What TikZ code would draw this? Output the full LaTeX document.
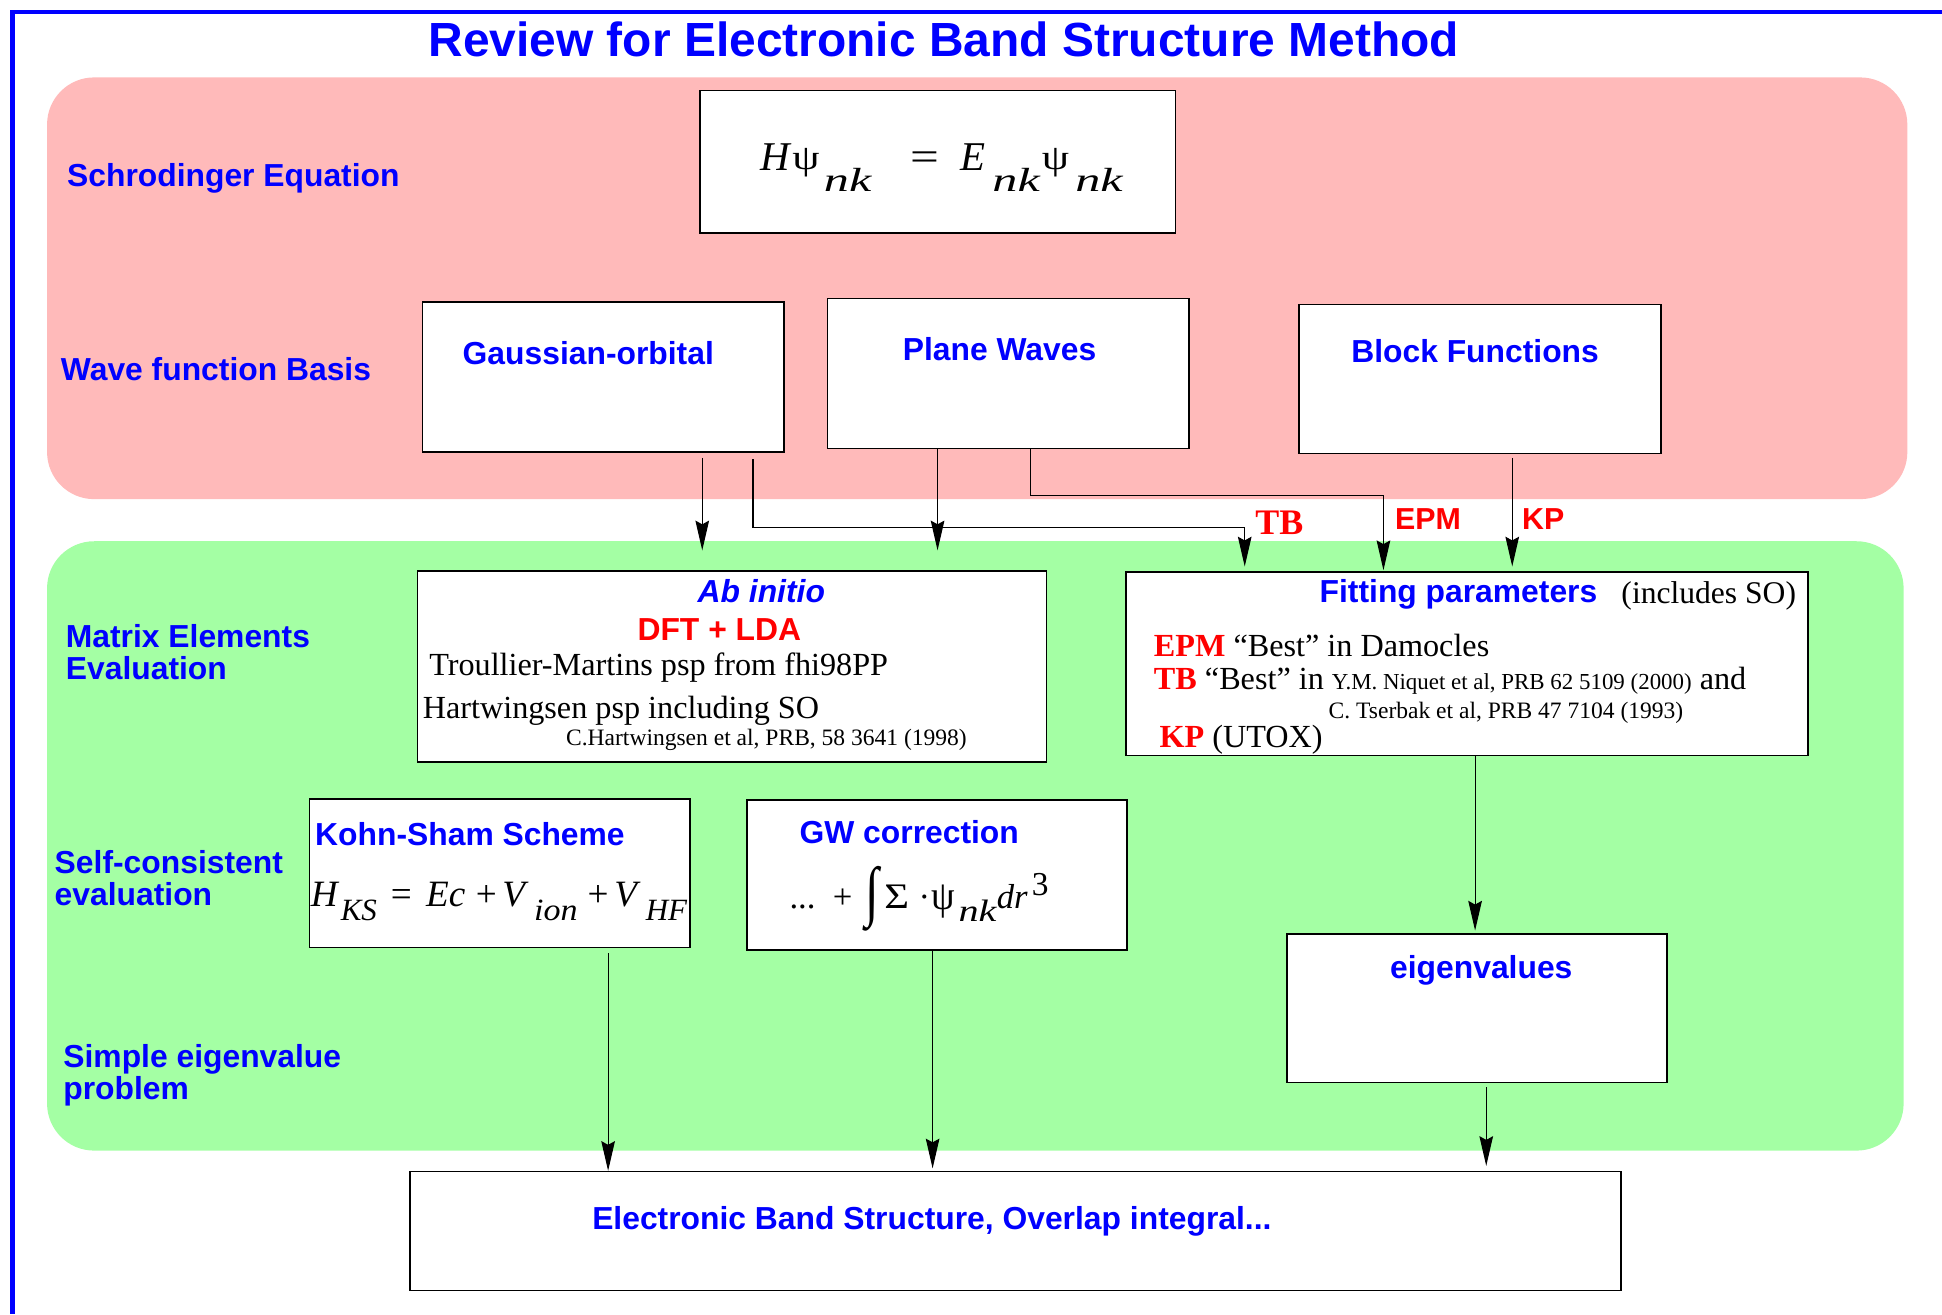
\documentclass[tikz,border=0pt]{standalone}
\usepackage{fontspec}
\usepackage{graphicx}
\setmainfont{Liberation Serif}
\newfontfamily\hv{Liberation Sans}
\usetikzlibrary{arrows.meta,calc}
\definecolor{pinkbg}{RGB}{255,186,186}
\definecolor{greenbg}{RGB}{164,255,164}
\newcommand\fsz[1]{\fontsize{#1}{#1}\selectfont}
\newcommand\pc[3]{\makebox[0pt][l]{\hspace*{#1pt}\raisebox{#2pt}{#3}}}
% glyph #3 stretched to width #1 and total height #2 (depth removed)
\newcommand\glyphbox[3]{\resizebox*{#1}{#2}{\raisebox{\depth}{#3}}}
\tikzset{
  lbl/.style={font=\hv\bfseries\fsz{25.7}, text=blue, inner sep=0, anchor=base west},
  clbl/.style={lbl, anchor=base},
  rlbl/.style={font=\hv\bfseries\fsz{24.5}, text=red, inner sep=0, anchor=base},
  tm/.style={font=\fsz{26}, inner sep=0, anchor=base west},
  cite/.style={font=\fsz{19}, inner sep=0, anchor=base west},
  eqn/.style={inner sep=0, anchor=base west},
  box/.style={draw=black, line width=1.3pt, fill=white, inner sep=0},
  region/.style={rounded corners=38pt},
  conn/.style={line width=0.9pt, draw=black},
  arr/.style={conn, -{Stealth[length=24pt,width=11pt,inset=3pt]}}
}
\begin{document}
\begin{tikzpicture}[x=1pt,y=-1pt]
\useasboundingbox (0,0) rectangle (1568,1061);
% frame
\draw[blue, line width=4pt] (1568,9.7) -- (10,9.7) -- (10,1061);
\node[font=\hv\bfseries\fsz{38.7}, text=blue, inner sep=0, anchor=base] (title) at (762,46) {Review for Electronic Band Structure Method};
% regions
\fill[pinkbg, region] (38,62.5) rectangle (1540,403);
\fill[greenbg, region] (38,437) rectangle (1537,929);
% boxes
\node[box, minimum width=384, minimum height=115] (sch) at (757,130.5) {};
\node[box, minimum width=292, minimum height=121] (ga) at (487,304.5) {};
\node[box, minimum width=292, minimum height=121] (pw) at (814,301.5) {};
\node[box, minimum width=292, minimum height=120] (bf) at (1195,306) {};
\node[box, minimum width=508, minimum height=154] (ai) at (591,538) {};
\node[box, minimum width=551, minimum height=148] (fp) at (1184.5,536) {};
\node[box, minimum width=307, minimum height=120] (ks) at (403.5,705) {};
\node[box, minimum width=307, minimum height=121] (gw) at (756.5,706.5) {};
\node[box, minimum width=307, minimum height=120] (ev) at (1192.5,814) {};
\node[box, minimum width=978, minimum height=96] (ebs) at (820,994) {};
% row labels
\node[lbl] (l1) at (54,150.5) {Schrodinger Equation};
\node[lbl] (l2) at (49,307) {Wave function Basis};
\node[lbl] (l3a) at (53,523) {Matrix Elements};
\node[lbl] (l3b) at (53,549) {Evaluation};
\node[lbl] (l4a) at (44,705) {Self-consistent};
\node[lbl] (l4b) at (44,731) {evaluation};
\node[lbl] (l5a) at (51,862) {Simple eigenvalue};
\node[lbl] (l5b) at (51,888) {problem};
% Schrodinger equation
\node[eqn] (scheq) at (613.6,137.3) {\fsz{33}%
  \pc{0}{0}{\itshape H}%
  \pc{25.5}{-5.3}{\glyphbox{22pt}{23.1pt}{ψ}}%
  \pc{51}{-17.5}{\fsz{27}\itshape\scalebox{1.5}[1]{nk}}%
  \pc{121}{0}{\scalebox{1.25}[1]{=}}%
  \pc{161}{0}{\itshape E}%
  \pc{187}{-17.5}{\fsz{27}\itshape\scalebox{1.5}[1]{nk}}%
  \pc{227}{-5.3}{\glyphbox{22pt}{23.1pt}{ψ}}%
  \pc{254}{-17.5}{\fsz{27}\itshape\scalebox{1.5}[1]{nk}}};
% basis labels
\node[clbl] (tga) at (475,294) {Gaussian-orbital};
\node[clbl] (tpw) at (807,291) {Plane Waves};
\node[clbl] (tbf) at (1191,293) {Block Functions};
% connector columns
\coordinate (xa) at (567,0);
\coordinate (xb) at (608,0);
\coordinate (xc) at (757,0);
\coordinate (xd) at (832,0);
\coordinate (xe) at (1221,0);
\coordinate (tbj) at (1005,426);
\coordinate (epj) at (1117,400);
\coordinate (xf) at (1191,0);
\coordinate (xg) at (491,0);
\coordinate (xh) at (753,0);
\coordinate (xi) at (1200,0);
\draw[arr, shorten >=16pt] ($(ga.south -| xa)+(0,4)$) -- (ai.north -| xa);
\draw[arr, shorten >=4pt] ($(ga.south -| xb)+(0,5)$) |- (tbj) -- (fp.north -| tbj);
\draw[arr, shorten >=16pt] (pw.south -| xc) -- (ai.north -| xc);
\draw[arr, shorten >=1pt] (pw.south -| xd) |- (epj) -- (fp.north -| epj);
\draw[arr, shorten >=4pt] ($(bf.south -| xe)+(0,3)$) -- (fp.north -| xe);
\draw[arr, shorten >=2pt] (fp.south -| xf) -- (ev.north -| xf);
\draw[arr] ($(ks.south -| xg)+(0,4)$) -- (ebs.north -| xg);
\draw[arr, shorten >=2pt] (gw.south -| xh) -- (ebs.north -| xh);
\draw[arr, shorten >=4pt] ($(ev.south -| xi)+(0,3)$) -- (ebs.north -| xi);
\node[font=\bfseries\fsz{29}, text=red, inner sep=0, anchor=base] (ltb) at (1033,431.4) {TB};
\node[rlbl] (lepm) at (1153,427.4) {EPM};
\node[rlbl] (lkp) at (1246,427.4) {KP};
% Ab initio box
\node[font=\hv\bfseries\itshape\fsz{25.7}, text=blue, inner sep=0, anchor=base] (tai) at (614.7,486.6) {Ab initio};
\node[font=\hv\bfseries\fsz{25.7}, text=red, inner sep=0, anchor=base] (tdft) at (580.8,516.8) {DFT + LDA};
\node[tm] (ttm) at (346.4,545) {Troullier-Martins psp from fhi98PP};
\node[tm] (thw) at (341.2,580) {Hartwingsen psp including SO};
\node[cite] (chw) at (456.9,602) {C.Hartwingsen et al, PRB, 58 3641 (1998)};
% Fitting parameters box
\node[lbl] (tfp) at (1065.3,486.6) {Fitting parameters};
\node[tm, font=\fsz{25.5}] (tso) at (1309,487) {(includes SO)};
\node[tm] (tepm) at (931.5,530) {\textcolor{red}{\bfseries EPM} “Best” in Damocles};
\node[tm] (ttb) at (931.5,556.6) {\textcolor{red}{\bfseries TB} “Best” in {\fsz{18.5}Y.M. Niquet et al, PRB 62 5109 (2000)} and};
\node[cite] (cts) at (1072.6,580) {C. Tserbak et al, PRB 47 7104 (1993)};
\node[tm] (tkp) at (936,603.5) {\textcolor{red}{\bfseries KP} (UTOX)};
% Kohn-Sham box
\node[lbl] (tks) at (254.3,682.3) {Kohn-Sham Scheme};
\begin{scope}
\clip (ks.south west) rectangle (ks.north east);
\node[eqn] (kseq) at (250.3,732.1) {\fsz{30}%
  \pc{0}{0}{\itshape H}%
  \pc{24.2}{-11.3}{\fsz{25}\itshape KS}%
  \pc{64.6}{0}{=}%
  \pc{93}{0}{\itshape Ec}%
  \pc{133.2}{0}{+}%
  \pc{154.7}{0}{\itshape V}%
  \pc{180.3}{-11.3}{\fsz{25}\itshape\scalebox{1.1}[1]{ion}}%
  \pc{223.4}{0}{+}%
  \pc{245}{0}{\itshape V}%
  \pc{270.5}{-11.3}{\fsz{25}\itshape HF}};
\end{scope}
% GW box
\node[lbl] (tgw) at (645.4,681) {GW correction};
\node[eqn] (gweq) at (636.8,733.4) {\fsz{28}%
  \pc{0}{0}{...}%
  \pc{35}{0}{+}%
  \pc{61}{-18.8}{\glyphbox{11pt}{52.4pt}{∫}}%
  \pc{76.5}{0}{\glyphbox{20pt}{19pt}{Σ}}%
  \pc{104.2}{0}{·}%
  \pc{115}{-8}{\glyphbox{19pt}{26.8pt}{ψ}}%
  \pc{136.4}{-10.8}{\fsz{25}\itshape\scalebox{1.3}[1]{nk}}%
  \pc{167.4}{0}{\itshape dr}%
  \pc{195.7}{10.7}{\fsz{27}3}};
% eigenvalues and result
\node[clbl] (tev) at (1196,790) {eigenvalues};
\node[lbl] (tebs) at (478,993) {Electronic Band Structure, Overlap integral...};
\end{tikzpicture}
\end{document}
